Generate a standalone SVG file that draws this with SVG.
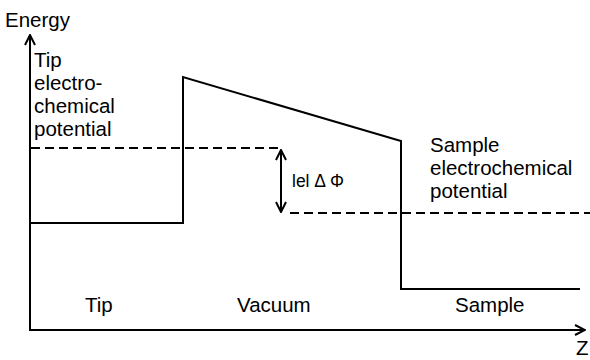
<svg xmlns="http://www.w3.org/2000/svg" width="590" height="360" viewBox="0 0 590 360">
<defs>
<style>
text{font-family:"Liberation Sans",Arial,sans-serif;font-size:20.5px;fill:#000}
.ln{fill:none;stroke:#000;stroke-width:2}
.dash{fill:none;stroke:#000;stroke-width:1.8;stroke-dasharray:9,5}
</style>
<marker id="ah" viewBox="0 0 12 12" refX="11" refY="6" markerWidth="12" markerHeight="12" markerUnits="userSpaceOnUse" orient="auto-start-reverse">
<path d="M1,1 L11,6 L1,11" fill="none" stroke="#000" stroke-width="2"/>
</marker>
</defs>
<rect width="590" height="360" fill="#fff"/>
<g id="axes">
<line class="ln" x1="30" y1="331" x2="30" y2="35" marker-end="url(#ah)"/>
<line class="ln" x1="29" y1="330" x2="585" y2="330" marker-end="url(#ah)"/>
<text x="5" y="27">Energy</text>
<text x="576" y="355">Z</text>
</g>
<g id="connectors">
<polyline class="ln" points="30,223 183,223 183,77 401,141 401,289 580,289"/>
<line class="dash" x1="31" y1="148" x2="280" y2="148"/>
<line class="dash" x1="290" y1="213" x2="590" y2="213"/>
<line class="ln" x1="281" y1="150" x2="281" y2="212" stroke-width="1.6" marker-start="url(#ah)" marker-end="url(#ah)"/>
</g>
<g id="tip-label">
<text x="34" y="67">Tip</text>
<text x="34" y="90">electro-</text>
<text x="34" y="113">chemical</text>
<text x="34" y="136">potential</text>
</g>
<g id="sample-label">
<text x="430" y="152">Sample</text>
<text x="430" y="175">electrochemical</text>
<text x="430" y="198">potential</text>
</g>
<g id="delta-label">
<text x="292" y="187" style="font-size:17.5px">lel Δ Φ</text>
</g>
<g id="regions">
<text x="85" y="312">Tip</text>
<text x="237" y="312">Vacuum</text>
<text x="455" y="312">Sample</text>
</g>
</svg>
